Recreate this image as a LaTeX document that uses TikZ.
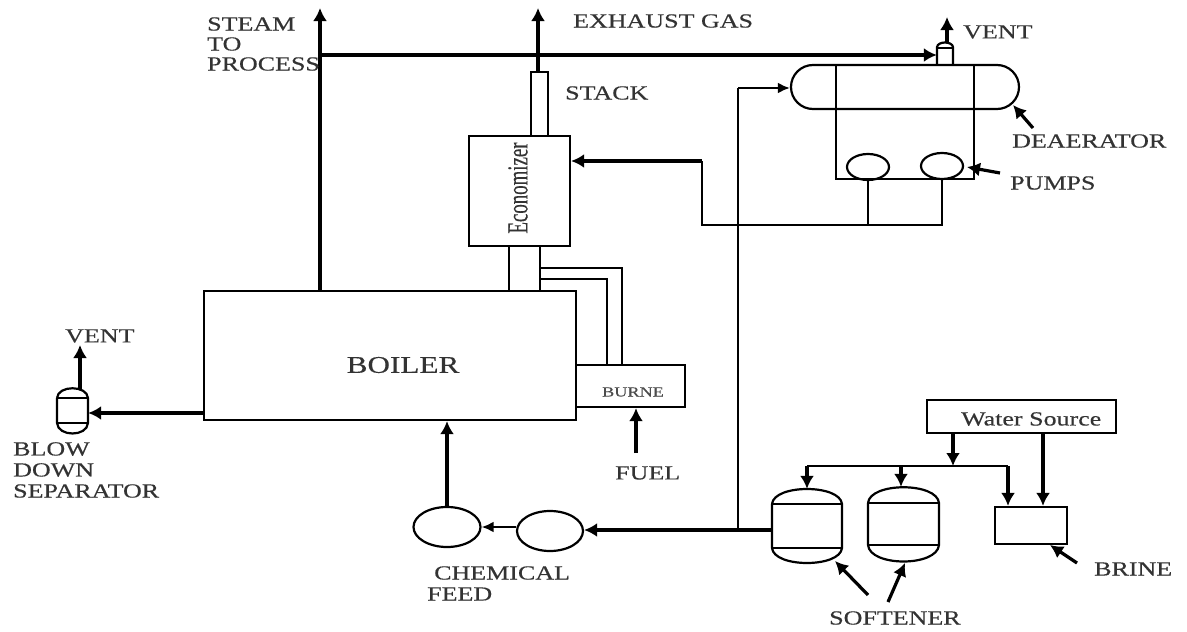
\documentclass[tikz,border=0pt]{standalone}
\usepackage{fontspec}
\setmainfont{Liberation Serif}
\newfontfamily\labelfont[FakeStretch=1.3, FakeBold=0.4]{Liberation Serif}
\newfontfamily\narrowfont[FakeStretch=0.65, FakeBold=0.2]{Liberation Serif}
\usetikzlibrary{arrows.meta, positioning, shapes.geometric}

\tikzset{
  pipe/.style={line width=2.2pt},
  flow/.style={line width=3.2pt, -{Latex[length=13pt, width=14pt]}},
  heavyflow/.style={line width=4pt, -{Latex[length=13pt, width=14pt]}},
  thinflow/.style={line width=2.6pt, -{Latex[length=12pt, width=11pt]}},
  unit/.style={draw, line width=2.2pt, inner sep=0pt},
  pumpoval/.style={unit, ellipse},
  anchorbox/.style={inner sep=0pt},
  tag/.style={inner sep=0pt, anchor=west, text=black!80, font=\fontsize{20}{20}\labelfont}
}

\begin{document}
\begin{tikzpicture}[x=1pt, y=-1pt]
\useasboundingbox (0,0) rectangle (1187,632);

% The boiler, burner and flue
\node [unit, minimum width=372pt, minimum height=129pt] (boiler) at (390,355.5) {};
\node [unit, minimum width=109pt, minimum height=42pt] (burner) at (630.5,386) {};
\node [unit, minimum width=101pt, minimum height=110pt] (economizer) at (519.5,191) {};
\node [unit, minimum width=17pt, minimum height=64pt] (stack) at (539.5,104) {};
\node [unit, minimum width=31pt, minimum height=45pt] (flue) at (524.5,268.5) {};

% Burner duct
\coordinate (ductouter) at (622,268);
\coordinate (ductinner) at (607,279);
\draw [pipe] (flue.east |- ductouter) -- (ductouter) -- (ductouter |- burner.north);
\draw [pipe] (flue.east |- ductinner) -- (ductinner) -- (ductinner |- burner.north);

% Deaerator
\node [unit, rounded corners=22pt, minimum width=228pt, minimum height=44pt] (deaerator) at (905,87) {};
\node [anchorbox, minimum width=16pt, minimum height=23pt] (ventstack) at (945,53.5) {};
\draw [pipe] (937,65) -- (937,47) .. controls (938,41) and (952,41) .. (953,47) -- (953,65);
\draw [pipe] (937,48) -- (953,48);
\coordinate (frameleft) at (836,179);
\coordinate (frameright) at (974,179);
\draw [pipe] (836,65) -- (frameleft) -- (frameright) -- (974,65);
\node [pumpoval, minimum width=42pt, minimum height=26pt] (pumpa) at (868,167) {};
\node [pumpoval, minimum width=42pt, minimum height=26pt] (pumpb) at (942,166) {};

% Feed water
\coordinate (pumpafoot) at (pumpa.south |- 0,225);
\coordinate (pumpbfoot) at (pumpb.south |- 0,225);
\coordinate (feedcorner) at (702,225);
\coordinate (feedtop) at (702,161);
\draw [pipe] (pumpa.south) -- (pumpafoot);
\draw [pipe] (pumpb.south) -- (pumpbfoot) -- (feedcorner) -- (feedtop);
\draw [flow] (feedtop) -- (feedtop -| economizer.east);

% Softeners
\node [anchorbox, minimum width=70pt, minimum height=74pt] (softa) at (807,526) {};
\draw [pipe] (772,504) -- (772,548) .. controls (774,568) and (840,568) .. (842,548) -- (842,504)
  .. controls (840,484) and (774,484) .. (772,504);
\draw [pipe] (772,504) -- (842,504);
\draw [pipe] (772,548) -- (842,548);
\node [anchorbox, minimum width=71pt, minimum height=75pt] (softb) at (903.5,524.5) {};
\draw [pipe] (868,503) -- (868,545) .. controls (870,567) and (937,567) .. (939,545) -- (939,503)
  .. controls (937,482) and (870,482) .. (868,503);
\draw [pipe] (868,503) -- (939,503);
\draw [pipe] (868,545) -- (939,545);

% Water source and brine
\node [unit, minimum width=189pt, minimum height=33pt] (source) at (1021.5,416.5) {};
\node [unit, minimum width=72pt, minimum height=37pt] (brine) at (1031,525.5) {};
\coordinate (mainjoin) at (953,466);
\coordinate (mainleft) at (807,466);
\coordinate (mainmid) at (901,466);
\coordinate (mainright) at (1008,466);
\draw [flow] (mainjoin |- source.south) -- (mainjoin);
\draw [pipe] (mainleft) -- (mainright);
\draw [flow] (mainleft) -- (mainleft |- softa.north);
\draw [flow] (mainmid) -- (mainmid |- softb.north);
\draw [flow] (mainright) -- (mainright |- brine.north);
\coordinate (brinein) at (1043,433);
\draw [heavyflow] (brinein) -- (brinein |- brine.north);

% Chemical feed
\node [pumpoval, minimum width=67pt, minimum height=40pt] (chemb) at (447,527) {};
\node [pumpoval, minimum width=66pt, minimum height=40pt] (chema) at (550,531) {};
\coordinate (softtee) at (738,530);
\draw [flow] (softa.west |- softtee) -- (chema.east |- softtee);
\draw [thinflow] (chema.west |- chemb.east) -- (chemb.east);
\draw [heavyflow] (chemb.north) -- (chemb.north |- boiler.south);
\coordinate (deaerin) at (738,88);
\draw [pipe] (softtee) -- (deaerin);
\draw [thinflow] (deaerin) -- (deaerator.west |- deaerin);

% Steam and exhaust
\coordinate (steamtop) at (320,8);
\coordinate (steamtee) at (320,55);
\coordinate (exhausttop) at (538,8);
\coordinate (venttop) at (947,17);
\draw [flow] (steamtop |- boiler.north) -- (steamtop);
\draw [flow] (steamtee) -- (ventstack.west |- steamtee);
\draw [heavyflow] (exhausttop |- stack.north) -- (exhausttop);
\draw [flow] (venttop |- ventstack.north) -- (venttop);

% Blow down
\node [anchorbox, minimum width=31pt, minimum height=44pt] (separator) at (72.5,411) {};
\draw [pipe] (57,398) -- (57,423) .. controls (58,437) and (87,437) .. (88,423) -- (88,398)
  .. controls (87,385) and (58,385) .. (57,398);
\draw [pipe] (57,398) -- (88,398);
\draw [pipe] (57,423) -- (88,423);
\coordinate (blowout) at (204,413);
\coordinate (blowvent) at (80,345);
\draw [flow] (blowout) -- (blowout -| separator.east);
\draw [heavyflow] (blowvent |- separator.north) -- (blowvent);

% Fuel
\coordinate (fuelin) at (636,453);
\draw [heavyflow] (fuelin) -- (fuelin |- burner.south);

% Pointers
\coordinate (pdeaer) at (1033,128);
\coordinate (pdeaertip) at (1013,105);
\coordinate (ppumps) at (1000,173);
\coordinate (ppumpstip) at (967,167);
\coordinate (pbrine) at (1077,563);
\coordinate (pbrinetip) at (1050,545);
\coordinate (psofta) at (868,595);
\coordinate (psoftatip) at (835,561);
\coordinate (psoftb) at (888,602);
\coordinate (psoftbtip) at (905,563);
\draw [flow] (pdeaer) -- (pdeaertip);
\draw [flow] (ppumps) -- (ppumpstip);
\draw [flow] (pbrine) -- (pbrinetip);
\draw [flow] (psofta) -- (psoftatip);
\draw [flow] (psoftb) -- (psoftbtip);

% Labels
\node [tag] (lsteam) at (207,24) {STEAM};
\node [tag] (lto) at (207,44) {TO};
\node [tag] (lprocess) at (207,64) {PROCESS};
\node [tag] (lexhaust) at (573,21) {EXHAUST GAS};
\node [tag] (lstack) at (565,93) {STACK};
\node [tag] (lventa) at (963,32) {VENT};
\node [tag] (ldeaer) at (1012,141) {DEAERATOR};
\node [tag] (lpumps) at (1010,183) {PUMPS};
\node [inner sep=0pt, text=black!80, font=\fontsize{24}{24}\labelfont] (lboiler) at (403,365) {BOILER};
\node [inner sep=0pt, text=black!70, font=\fontsize{14}{14}\labelfont] (lburner) at (633,392) {BURNE};
\node [inner sep=0pt, rotate=90, text=black!80, font=\fontsize{29}{29}\narrowfont] (lecon) at (518,188) {Economizer};
\node [tag] (lsource) at (961,419) {Water Source};
\node [tag] (lfuel) at (615,473) {FUEL};
\node [tag] (lventb) at (65,336) {VENT};
\node [tag] (lblow) at (13,449) {BLOW};
\node [tag] (ldown) at (13,470) {DOWN};
\node [tag] (lsep) at (13,491) {SEPARATOR};
\node [tag] (lchem) at (434,573) {CHEMICAL};
\node [tag] (lfeed) at (427,594) {FEED};
\node [tag] (lbrine) at (1094,569) {BRINE};
\node [tag] (lsoft) at (829,618) {SOFTENER};

\end{tikzpicture}
\end{document}
